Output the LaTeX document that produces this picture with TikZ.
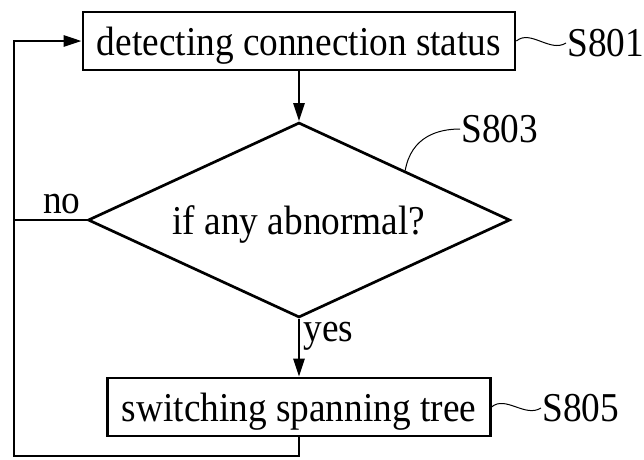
\documentclass[tikz,border=0pt]{standalone}
\usepackage{fontspec}
\setmainfont{Liberation Serif}[FakeStretch=0.91]
\usetikzlibrary{shapes.geometric,arrows.meta,calc}
\tikzstyle{every node}=[font=\fontsize{41}{46}\selectfont]
\tikzstyle{stepbox}=[draw, line width=2.7pt, inner xsep=14pt, minimum height=58pt, text height=28pt, text depth=0pt]
\tikzstyle{decision}=[draw, diamond, aspect=2.164, line width=2.7pt, minimum width=422pt, minimum height=195pt, inner sep=0pt, text height=28pt, text depth=0pt]
\tikzstyle{tag}=[anchor=west, inner sep=0pt]
\tikzstyle{leader}=[line width=1pt]

\begin{document}
\begin{tikzpicture}[x=1pt, y=-1pt, line width=2.7pt, >={Triangle[length=18pt,width=11pt]}]
\useasboundingbox (0,0) rectangle (644,459);
% Steps
    \node[stepbox] (detect) at (299,41) {detecting connection status};
    \node[decision] (check) at (299,220) {if any abnormal?};
    \node[stepbox] (switch) at (299,407) {switching spanning tree};
% Step numbers
    \node[tag] (s801) at (566,43) {S801};
    \node[tag] (s803) at (460,129) {S803};
    \node[tag] (s805) at (541,408) {S805};
    \draw[leader] (detect.east) .. controls +(14,-12) and +(-16,10) .. (s801.west);
    \coordinate (edge) at ($(check.north)!0.5!(check.east)$);
    \draw[leader] (edge) .. controls +(6,-34) and +(-22,0) .. (s803.west);
    \draw[leader] (switch.east) .. controls +(14,-12) and +(-16,10) .. (s805.west);
% Flow
    \coordinate (corner) at (14,456);
    \draw[->] (detect) -- (check);
    \draw[->] (check) -- node[right, pos=0.3, inner sep=3pt] {yes} (switch);
    \draw (check.west) -- node[above, pos=0.34, inner sep=5pt] {no} (check.west -| corner);
    \draw[->] (switch.south) |- (corner) |- (detect.west);
\end{tikzpicture}
\end{document}
